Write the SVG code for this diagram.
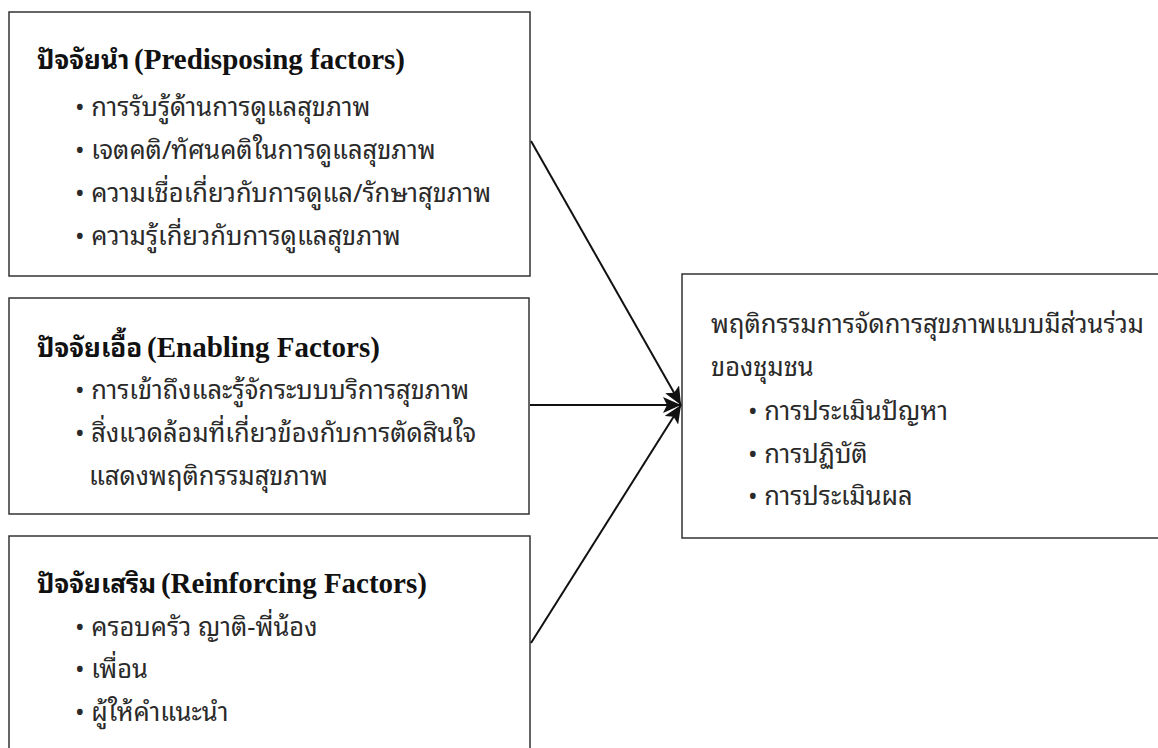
<svg xmlns="http://www.w3.org/2000/svg" width="1158" height="748" viewBox="0 0 1158 748">
<style>
.box{fill:#fff;stroke:#333;stroke-width:1.5}
.t{font-family:"Noto Sans Thai Looped","Noto Sans Thai","Noto Sans","DejaVu Sans",sans-serif;font-size:25.5px;fill:#2a2a2a}
.h{font-family:"Noto Sans Thai Looped","Noto Sans Thai","Noto Sans","DejaVu Sans",sans-serif;font-size:26px;font-weight:bold;fill:#111}
.en{font-family:"Liberation Serif",serif;font-weight:bold;font-size:29px}
.c{stroke:#111;stroke-width:2;fill:none;marker-end:url(#ah)}
</style>
<defs>
<marker id="ah" markerUnits="userSpaceOnUse" markerWidth="20" markerHeight="16" refX="18" refY="8" orient="auto">
<path d="M0,0 L18,8 L0,16 L4,8 Z" fill="#111"/>
</marker>
</defs>
<rect width="1158" height="748" fill="#fff"/>
<g id="predisposing">
<rect class="box" x="9" y="12" width="521" height="264"/>
<text class="h" x="37" y="69">ปัจจัยนำ <tspan class="en" dx="-2">(Predisposing factors)</tspan></text>
<text class="t" x="75" y="116">• การรับรู้ด้านการดูแลสุขภาพ</text>
<text class="t" x="75" y="159">• เจตคติ/ทัศนคติในการดูแลสุขภาพ</text>
<text class="t" x="75" y="202">• ความเชื่อเกี่ยวกับการดูแล/รักษาสุขภาพ</text>
<text class="t" x="75" y="245">• ความรู้เกี่ยวกับการดูแลสุขภาพ</text>
</g>
<g id="enabling">
<rect class="box" x="9" y="298" width="520" height="216"/>
<text class="h" x="37" y="357">ปัจจัยเอื้อ <tspan class="en" dx="-2">(Enabling Factors)</tspan></text>
<text class="t" x="75" y="399">• การเข้าถึงและรู้จักระบบบริการสุขภาพ</text>
<text class="t" x="75" y="442">• สิ่งแวดล้อมที่เกี่ยวข้องกับการตัดสินใจ</text>
<text class="t" x="89" y="485">แสดงพฤติกรรมสุขภาพ</text>
</g>
<g id="reinforcing">
<rect class="box" x="9" y="536" width="521" height="230"/>
<text class="h" x="37" y="593">ปัจจัยเสริม <tspan class="en" dx="-2">(Reinforcing Factors)</tspan></text>
<text class="t" x="75" y="636">• ครอบครัว ญาติ-พี่น้อง</text>
<text class="t" x="75" y="678">• เพื่อน</text>
<text class="t" x="75" y="721">• ผู้ให้คำแนะนำ</text>
</g>
<g id="behavior">
<rect class="box" x="682" y="274" width="490" height="264"/>
<text class="t" x="711" y="333">พฤติกรรมการจัดการสุขภาพแบบมีส่วนร่วม</text>
<text class="t" x="711" y="376">ของชุมชน</text>
<text class="t" x="748" y="420">• การประเมินปัญหา</text>
<text class="t" x="748" y="463">• การปฏิบัติ</text>
<text class="t" x="748" y="505">• การประเมินผล</text>
</g>
<g id="connectors">
<line class="c" x1="531" y1="141" x2="681" y2="405"/>
<line class="c" x1="530" y1="405" x2="681" y2="405"/>
<line class="c" x1="531" y1="643" x2="681" y2="405"/>
</g>
</svg>
